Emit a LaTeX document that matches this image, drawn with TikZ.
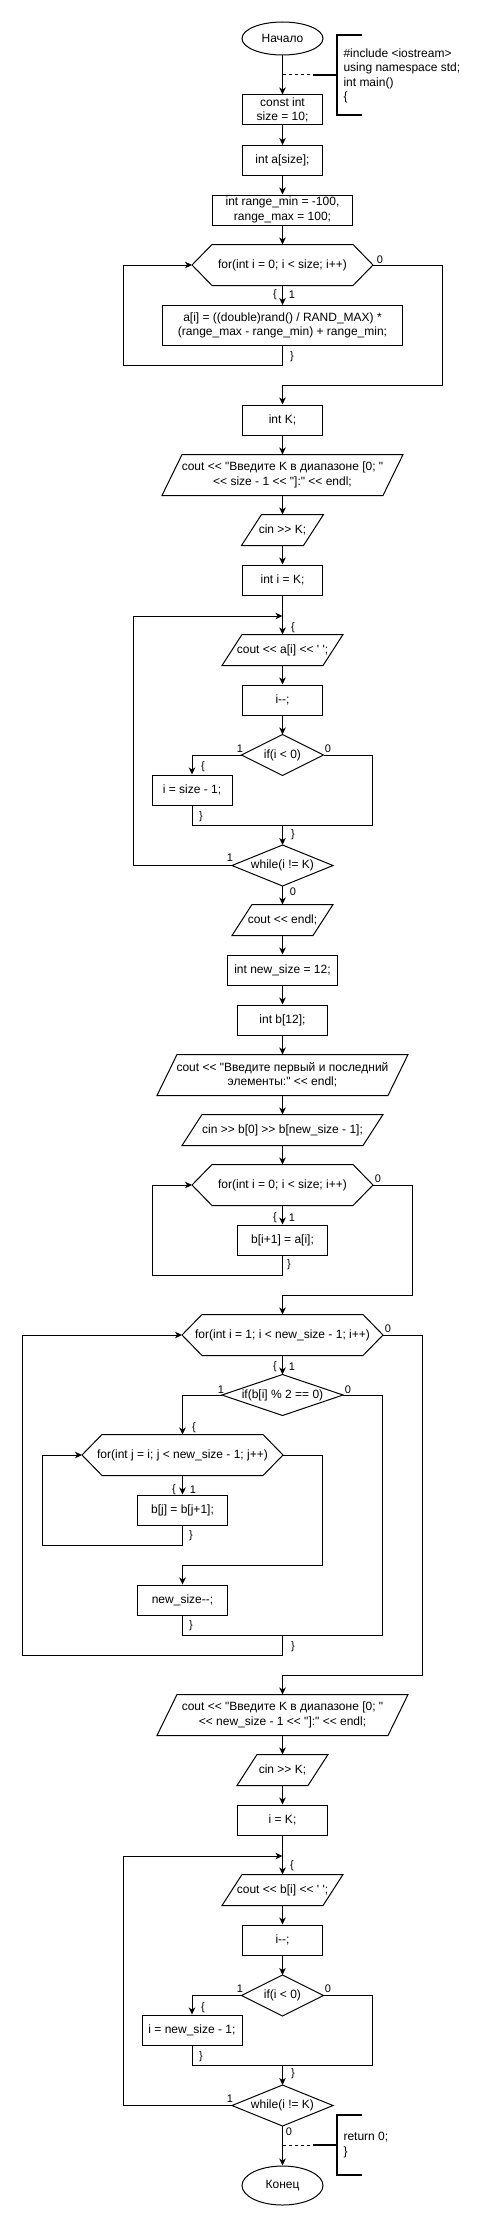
\documentclass[tikz,border=0pt]{standalone}
\usepackage{fontspec}
\newfontfamily\mainf{Liberation Sans}
\usetikzlibrary{shapes.geometric,arrows.meta}
\tikzset{
  txt/.style={font=\mainf\fontsize{12}{14.5}\selectfont},
  box/.style={txt, rectangle, inner sep=0pt, minimum height=30pt, align=center},
  proc/.style={box, draw},
  term/.style={txt, ellipse, draw, inner sep=0pt, minimum width=81pt},
  lbl/.style={inner sep=0pt, font=\mainf\fontsize{11}{13}\selectfont},
  arr/.style={-{Stealth[length=7pt,width=6.5pt,inset=2pt]}},
  brk/.style={line width=2pt},
  dsh/.style={dash pattern=on 3pt off 3pt},
}
\begin{document}
\begin{tikzpicture}[x=1pt,y=-1pt,line width=1pt]
\useasboundingbox (0,0) rectangle (498,2221);
% ---- nodes ----
\node[term, minimum height=33pt] (start) at (282.5,38.5) {Начало};
\node[proc, minimum width=80pt] (n1) at (282.5,110) {const int\\size = 10;};
\node[proc, minimum width=80pt] (n2) at (282.5,160.5) {int a[size];};
\node[proc, minimum width=140pt] (n3) at (282.5,210) {int range\_min = -100,\\range\_max = 100;};
\node[box, minimum width=180pt, minimum height=40pt] (f1) at (282.5,265) {for(int i = 0; i < size; i++)};
\node[proc, minimum width=240pt, minimum height=40pt] (n4) at (282.5,325.5) {a[i] = ((double)rand() / RAND\_MAX) *\\(range\_max - range\_min) + range\_min;};
\node[proc, minimum width=80pt] (n5) at (282.5,420) {int K;};
\node[box, minimum width=240pt, minimum height=40pt] (io1) at (282.5,475) {cout << "Введите K в диапазоне [0; "\\<< size - 1 << "]:" << endl;};
\node[box, minimum width=81pt] (io2) at (282.5,530) {cin >> K;};
\node[proc, minimum width=80pt] (n6) at (282.5,580) {int i = K;};
\node[box, minimum width=120pt] (io3) at (282.5,650) {cout << a[i] << ' ';};
\node[proc, minimum width=80pt] (n7) at (282.5,700) {i-{}-;};
\node[box, minimum width=81pt, minimum height=40pt] (d1) at (282.5,755) {if(i < 0)};
\node[proc, minimum width=80pt] (n8) at (192,790) {i = size - 1;};
\node[box, minimum width=100pt, minimum height=40pt] (w1) at (282.5,865.5) {while(i != K)};
\node[box, minimum width=100pt] (io4) at (282.5,920) {cout << endl;};
\node[proc, minimum width=110pt] (n9) at (282.5,970) {int new\_size = 12;};
\node[proc, minimum width=90pt] (n10) at (282.5,1020) {int b[12];};
\node[box, minimum width=250pt, minimum height=40pt] (io5) at (282.5,1075) {cout << "Введите первый и последний\\элементы:" << endl;};
\node[box, minimum width=200pt] (io6) at (282.5,1130) {cin >> b[0] >> b[new\_size - 1];};
\node[box, minimum width=180pt, minimum height=40pt] (f2) at (282.5,1185) {for(int i = 0; i < size; i++)};
\node[proc, minimum width=90pt] (n11) at (282.5,1240) {b[i+1] = a[i];};
\node[box, minimum width=200pt, minimum height=40pt] (f3) at (282.5,1335) {for(int i = 1; i < new\_size - 1; i++)};
\node[box, minimum width=120pt, minimum height=40pt] (d2) at (282.5,1395) {if(b[i] \% 2 == 0)};
\node[box, minimum width=200pt, minimum height=40pt] (f4) at (182.5,1455) {for(int j = i; j < new\_size - 1; j++)};
\node[proc, minimum width=90pt] (n12) at (182.5,1510) {b[j] = b[j+1];};
\node[proc, minimum width=90pt] (n13) at (182.5,1600) {new\_size-{}-;};
\node[box, minimum width=250pt, minimum height=40pt] (io7) at (282.5,1715) {cout << "Введите K в диапазоне [0; "\\<< new\_size - 1 << "]:" << endl;};
\node[box, minimum width=90pt] (io8) at (282.5,1770) {cin >> K;};
\node[proc, minimum width=90pt] (n14) at (282.5,1820) {i = K;};
\node[box, minimum width=120pt] (io9) at (282.5,1890) {cout << b[i] << ' ';};
\node[proc, minimum width=80pt] (n15) at (282.5,1940) {i-{}-;};
\node[box, minimum width=81pt, minimum height=40pt] (d3) at (282.5,1995.5) {if(i < 0)};
\node[proc, minimum width=100pt] (n16) at (192,2030) {i = new\_size - 1;};
\node[box, minimum width=100pt, minimum height=40pt] (w2) at (282.5,2105.5) {while(i != K)};
\node[term, minimum height=39pt] (end) at (282.5,2185.5) {Конец};
% ---- outlines ----
\foreach \n in {io1,io2,io3,io4,io5,io6,io7,io8,io9}{
  \draw ([xshift=20pt]\n.north west) -- (\n.north east) -- ([xshift=-20pt]\n.south east) -- (\n.south west) -- cycle;}
\foreach \n in {d1,d2,d3,w1,w2}{
  \draw (\n.north) -- (\n.east) -- (\n.south) -- (\n.west) -- cycle;}
\foreach \n in {f1,f2,f3,f4}{
  \draw (\n.west) -- ([xshift=20pt]\n.north west) -- ([xshift=-20pt]\n.north east) -- (\n.east) -- ([xshift=-20pt]\n.south east) -- ([xshift=20pt]\n.south west) -- cycle;}
% ---- coordinates ----
\coordinate (c1) at (123,365);
\coordinate (c2) at (442,385);
\coordinate (c3) at (133,616);
\coordinate (j1) at (282.5,616);
\coordinate (c4) at (372,825);
\coordinate (j2) at (282.5,825);
\coordinate (c5) at (152,1275);
\coordinate (c6) at (412,1295);
\coordinate (c7) at (42,1545);
\coordinate (c8) at (322,1565);
\coordinate (c9) at (382,1635);
\coordinate (j3) at (282.5,1635);
\coordinate (c10) at (22,1655);
\coordinate (c11) at (422,1675);
\coordinate (c12) at (123,1856);
\coordinate (j4) at (282.5,1856);
\coordinate (c13) at (372,2065);
\coordinate (j5) at (282.5,2065);
% ---- connectors ----
\draw[arr] (start.south) -- (n1.north);
\draw[arr] (n1.south) -- (n2.north);
\draw[arr] (n2.south) -- (n3.north);
\draw[arr] (n3.south) -- (f1.north);
\draw[arr] (f1.south) -- (n4.north);
\draw[arr] (n4.south) |- (c1) |- (f1.west);
\draw[arr] (f1.east) -| (c2) -| (n5.north);
\draw[arr] (n5.south) -- (io1.north);
\draw[arr] (io1.south) -- (io2.north);
\draw[arr] (io2.south) -- (n6.north);
\draw[arr] (n6.south) -- (io3.north);
\draw[arr] (w1.west) -| (c3) -- (j1);
\draw[arr] (io3.south) -- (n7.north);
\draw[arr] (n7.south) -- (d1.north);
\draw[arr] (d1.west) -| (n8.north);
\draw (n8.south) |- (c4) |- (d1.east);
\draw[arr] (j2) -- (w1.north);
\draw[arr] (w1.south) -- (io4.north);
\draw[arr] (io4.south) -- (n9.north);
\draw[arr] (n9.south) -- (n10.north);
\draw[arr] (n10.south) -- (io5.north);
\draw[arr] (io5.south) -- (io6.north);
\draw[arr] (io6.south) -- (f2.north);
\draw[arr] (f2.south) -- (n11.north);
\draw[arr] (n11.south) |- (c5) |- (f2.west);
\draw[arr] (f2.east) -| (c6) -| (f3.north);
\draw[arr] (f3.south) -- (d2.north);
\draw[arr] (d2.west) -| (f4.north);
\draw[arr] (f4.south) -- (n12.north);
\draw[arr] (n12.south) |- (c7) |- (f4.west);
\draw[arr] (f4.east) -| (c8) -| (n13.north);
\draw (n13.south) |- (c9) |- (d2.east);
\draw[arr] (j3) |- (c10) |- (f3.west);
\draw[arr] (f3.east) -| (c11) -| (io7.north);
\draw[arr] (io7.south) -- (io8.north);
\draw[arr] (io8.south) -- (n14.north);
\draw[arr] (n14.south) -- (io9.north);
\draw[arr] (w2.west) -| (c12) -- (j4);
\draw[arr] (io9.south) -- (n15.north);
\draw[arr] (n15.south) -- (d3.north);
\draw[arr] (d3.west) -| (n16.north);
\draw (n16.south) |- (c13) |- (d3.east);
\draw[arr] (j5) -- (w2.north);
\draw[arr] (w2.south) -- (end.north);
% ---- annotations ----
\coordinate (a1j) at (282.5,75);
\coordinate (a1m) at (313,75);
\coordinate (a1b) at (337,75);
\coordinate (a1t) at (362,35);
\coordinate (a1e) at (362,115);
\draw[dsh] (a1j) -- (a1m);
\draw[brk] (a1m) -- (a1b);
\draw[brk] (a1t) -| (a1b) |- (a1e);
\node[txt, anchor=west, align=left, inner sep=0pt] (a1) at (343,76) {\#include <iostream>\\using namespace std;\\int main()\\\{};
\coordinate (a2j) at (282.5,2145);
\coordinate (a2m) at (313,2145);
\coordinate (a2b) at (337,2145);
\coordinate (a2t) at (362,2115);
\coordinate (a2e) at (362,2175);
\draw[dsh] (a2j) -- (a2m);
\draw[brk] (a2m) -- (a2b);
\draw[brk] (a2t) -| (a2b) |- (a2e);
\node[txt, anchor=west, align=left, inner sep=0pt] (a2) at (343,2145) {return 0;\\\}};
% ---- labels ----
\node[lbl] (l1) at (380,260) {0};
\node[lbl] (l2) at (275,295) {\{};
\node[lbl] (l3) at (292,295) {1};
\node[lbl] (l4) at (292,357) {\}};
\node[lbl] (l5) at (293,628) {\{};
\node[lbl] (l6) at (240,749) {1};
\node[lbl] (l7) at (328,749) {0};
\node[lbl] (l8) at (203,767) {\{};
\node[lbl] (l9) at (201,817) {\}};
\node[lbl] (l10) at (293,835) {\}};
\node[lbl] (l11) at (230,858) {1};
\node[lbl] (l12) at (293,892) {0};
\node[lbl] (l13) at (378,1179) {0};
\node[lbl] (l14) at (275,1218) {\{};
\node[lbl] (l15) at (292,1218) {1};
\node[lbl] (l16) at (289,1265) {\}};
\node[lbl] (l17) at (388,1329) {0};
\node[lbl] (l18) at (275,1367) {\{};
\node[lbl] (l19) at (292,1367) {1};
\node[lbl] (l20) at (221,1390) {1};
\node[lbl] (l21) at (348,1390) {0};
\node[lbl] (l22) at (194,1428) {\{};
\node[lbl] (l23) at (174,1490) {\{};
\node[lbl] (l24) at (193,1490) {1};
\node[lbl] (l25) at (191,1536) {\}};
\node[lbl] (l26) at (191,1626) {\}};
\node[lbl] (l27) at (293,1647) {\}};
\node[lbl] (l28) at (292,1866) {\{};
\node[lbl] (l29) at (240,1989) {1};
\node[lbl] (l30) at (328,1989) {0};
\node[lbl] (l31) at (203,2008) {\{};
\node[lbl] (l32) at (201,2057) {\}};
\node[lbl] (l33) at (293,2074) {\}};
\node[lbl] (l34) at (230,2099) {1};
\node[lbl] (l35) at (289,2132) {0};
\end{tikzpicture}
\end{document}
